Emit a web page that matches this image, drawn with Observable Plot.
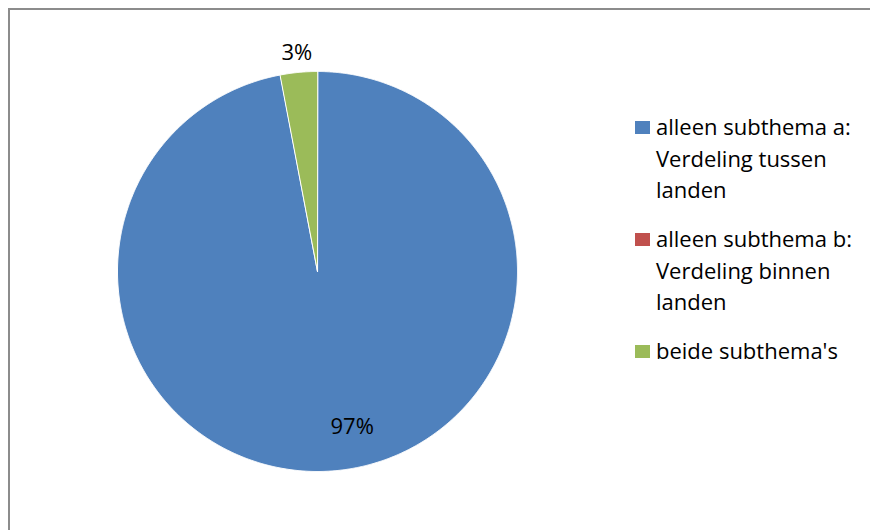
<!DOCTYPE html>
<html>
<head>
<meta charset="utf-8">
<script src="https://cdn.jsdelivr.net/npm/d3@7"></script>
<script src="https://cdn.jsdelivr.net/npm/@observablehq/plot@0.6"></script>
<style>
  html, body { margin: 0; padding: 0; background: #fff; }
  #wrap { position: relative; width: 870px; height: 530px; overflow: hidden; font-family: "Open Sans", sans-serif; }
  #frame { position: absolute; left: 8px; top: 8px; width: 870px; height: 530px; border-top: 2px solid #8c8c8c; border-left: 2px solid #8c8c8c; box-sizing: border-box; pointer-events: none; }
  #chart { position: absolute; left: 0; top: 0; }
  #legend { position: absolute; left: 635px; top: 111px; width: 235px; }
  .item { position: relative; padding-left: 21px; font-size: 22px; line-height: 31.5px; color: #000; margin-bottom: 17.5px; white-space: nowrap; }
  .sw { position: absolute; left: 0; top: 10px; width: 15px; height: 13px; }
</style>
</head>
<body>
<div id="wrap">
  <div id="chart"></div>
  <div id="frame"></div>
  <div id="legend"></div>
</div>
<script>
const categories = ["alleen subthema a: Verdeling tussen landen", "alleen subthema b: Verdeling binnen landen", "beide subthema's"];
const legendLines = [["alleen subthema a:", "Verdeling tussen", "landen"], ["alleen subthema b:", "Verdeling binnen", "landen"], ["beide subthema's"]];
const values = [97, 0, 3];
const labels = ["97%", "", "3%"];
const colors = ["#4F81BD", "#C0504D", "#9BBB59"];

const pie = d3.pie().sort(null).value(d => d.value)(categories.map((c, i) => ({cat: c, value: values[i], label: labels[i]})));

// Outline points of each slice (angles from 12 o'clock, clockwise)
const pts = [];
pie.forEach(p => {
  if (p.endAngle - p.startAngle <= 0) return;
  pts.push({cat: p.data.cat, x: 0, y: 0});
  const n = Math.max(2, Math.ceil((p.endAngle - p.startAngle) / 0.005));
  for (let k = 0; k <= n; k++) {
    const a = p.startAngle + (p.endAngle - p.startAngle) * k / n;
    pts.push({cat: p.data.cat, x: Math.sin(a), y: Math.cos(a)});
  }
});

const labelData = pie.filter(p => p.data.label).map(p => {
  const mid = (p.startAngle + p.endAngle) / 2;
  const outside = p.data.value < 10;
  const r = outside ? 1.1 : 0.78;
  return {label: p.data.label, x: Math.sin(mid) * r, y: Math.cos(mid) * r, outside};
});

const plot = Plot.plot({
  width: 870,
  height: 530,
  marginLeft: 117,
  marginRight: 353,
  marginTop: 71,
  marginBottom: 59,
  x: {domain: [-1, 1], axis: null},
  y: {domain: [-1, 1], axis: null},
  color: {domain: categories, range: colors},
  style: {fontFamily: "Open Sans, sans-serif", background: "transparent"},
  marks: [
    Plot.line(pts, {x: "x", y: "y", z: "cat", fill: "cat", stroke: "#fff", strokeWidth: 1, curve: "linear-closed"}),
    Plot.text(labelData.filter(d => d.outside), {x: "x", y: "y", text: "label", fontSize: 22, fill: "#000"}),
    Plot.text(labelData.filter(d => !d.outside), {x: "x", y: "y", text: "label", fontSize: 22, fill: "#000", dx: 20})
  ]
});
document.getElementById("chart").appendChild(plot);

const legend = document.getElementById("legend");
legendLines.forEach((lines, i) => {
  const item = document.createElement("div");
  item.className = "item";
  const sw = document.createElement("div");
  sw.className = "sw";
  sw.style.background = colors[i];
  item.appendChild(sw);
  lines.forEach(t => {
    const l = document.createElement("div");
    l.textContent = t;
    item.appendChild(l);
  });
  legend.appendChild(item);
});
</script>
</body>
</html>
